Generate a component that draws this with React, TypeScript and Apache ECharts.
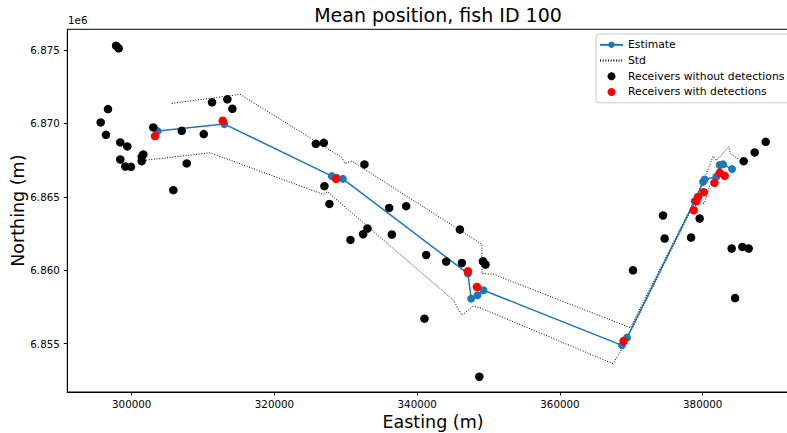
import React, { useEffect, useRef } from "react";
import * as echarts from "echarts";

const FONT = "DejaVu Sans";

// Axis ranges and ticks
const xRange = [290977, 393450];
const yRange = [6851710, 6876410];
const xTicks = [300000, 320000, 340000, 360000, 380000];
const yTicks = [6855000, 6860000, 6865000, 6870000, 6875000];

// Estimated track
const estimateX = [303645, 312982, 328040, 328700, 329580, 347105, 347568, 348450, 349290, 368695, 369400, 378873, 380050, 380275, 381915, 382378, 382855, 384117];
const estimateY = [6869477, 6869955, 6866409, 6866300, 6866225, 6859775, 6858070, 6858295, 6858636, 6854887, 6855412, 6864705, 6866021, 6866185, 6866366, 6867164, 6867211, 6866889];

// Std envelope
const stdUpX = [305608, 315183, 329441, 329903, 330843, 349067, 349067, 350694, 369858, 379114, 381078, 381456, 381920, 382384, 383645, 383882, 385045];
const stdUpY = [6871366, 6871980, 6867684, 6867275, 6867432, 6861772, 6859775, 6859727, 6856091, 6865000, 6867275, 6867773, 6867500, 6867725, 6868407, 6867957, 6867548];
const stdLoX = [302005, 310977, 326777, 327422, 345086, 346264, 347806, 348800, 367433, 368700, 378652, 380278, 380980, 381456, 381778, 382479, 383180];
const stdLoY = [6867500, 6867998, 6865182, 6865343, 6857955, 6856932, 6857545, 6857450, 6853640, 6854660, 6864364, 6864589, 6865796, 6865912, 6866362, 6866593, 6866225];

// Receivers with detections
const redX = [303266, 312757, 328628, 347105, 348367, 368920, 378735, 379110, 379350, 380137, 381637, 382380, 383080];
const redY = [6869137, 6870180, 6866225, 6859932, 6858862, 6855180, 6864091, 6864725, 6864998, 6865318, 6865953, 6866634, 6866430];

// Receivers without detections
const blackX = [297813, 298177, 296677, 295654, 296397, 298402, 299383, 298402, 299103, 299902, 301626, 301402, 301402, 303028, 307010, 310094, 307711, 305833, 311258, 313403, 314103,
  325795, 326917, 332609, 327001, 327702, 336072, 338455, 333030, 332427, 330647, 336450, 345983, 341259, 344063, 346264, 349208, 349573, 341020, 348704,
  370237, 374667, 378369, 374443, 379574, 384060, 385560, 386443, 384537, 385742, 387284, 388826];
const blackY = [6875293, 6875116, 6870977, 6870070, 6869225, 6868707, 6868434, 6867547, 6867070, 6867043, 6867889, 6867725, 6867432, 6869730, 6869498, 6869273, 6867275, 6865455, 6871434, 6871639, 6870998,
  6868611, 6868679, 6867207, 6865727, 6864520, 6864247, 6864364, 6862843, 6862455, 6862066, 6862434, 6862775, 6861043, 6860593, 6860498, 6860614, 6860389, 6856706, 6852750,
  6860000, 6862162, 6862230, 6863730, 6863525, 6861480, 6861589, 6861480, 6858111, 6867432, 6868025, 6868748];

const zip = (a: number[], b: number[]) => a.map((v, i) => [v, b[i]]);

export default function App() {
  const ref = useRef<HTMLDivElement>(null);
  useEffect(() => {
    if (!ref.current) return;
    const chart = echarts.init(ref.current, null, { renderer: "svg" });
    const dotted = [1, 1.65];
    chart.setOption({
      animation: false,
      backgroundColor: "#fff",
      textStyle: { fontFamily: FONT },
      title: {
        text: "Mean position, fish ID 100",
        left: 433,
        textAlign: "center",
        top: 0,
        textStyle: { fontFamily: FONT, fontSize: 19, fontWeight: "normal", color: "#000", lineHeight: 20 },
      },
      grid: {
        left: 67.3,
        top: 29.3,
        width: 731.4,
        height: 362.7,
        containLabel: false,
        outerBoundsMode: "none",
        show: true,
        borderColor: "#000",
        borderWidth: 1,
        backgroundColor: "transparent",
      },
      graphic: [
        {
          type: "text",
          left: 68,
          top: 15,
          style: { text: "1e6", fontSize: 10.3, fill: "#000", fontFamily: FONT },
        },
      ],
      legend: {
        orient: "vertical",
        left: 596,
        top: 34,
        padding: [3, 12, 3, 3],
        itemWidth: 23,
        itemHeight: 8,
        itemGap: 0,
        itemTextGap: 9.5,
        borderColor: "#cccccc",
        borderWidth: 1,
        borderRadius: 3,
        backgroundColor: "rgba(255,255,255,0.8)",
        textStyle: { fontFamily: FONT, fontSize: 10.8, color: "#000", lineHeight: 15.7 },
        data: [
          { name: "Estimate" },
          { name: "Std", itemStyle: { opacity: 0 } },
          { name: "Receivers without detections", icon: "circle" },
          { name: "Receivers with detections", icon: "circle" },
        ],
      },
      xAxis: {
        type: "value",
        min: xRange[0],
        max: xRange[1],
        name: "Easting (m)",
        nameLocation: "middle",
        nameGap: 20,
        nameTextStyle: { fontFamily: FONT, fontSize: 17.5, color: "#000" },
        axisLine: { show: true, onZero: false, lineStyle: { color: "#000", width: 1 } },
        axisTick: { show: true, length: 3.5, customValues: xTicks, lineStyle: { color: "#000", width: 1 } },
        axisLabel: {
          customValues: xTicks,
          fontFamily: FONT,
          fontSize: 10.3,
          color: "#000",
          margin: 6.5,
          formatter: (v: number) => String(Math.round(v)),
        },
        splitLine: { show: false },
      },
      yAxis: {
        type: "value",
        min: yRange[0],
        max: yRange[1],
        name: "Northing (m)",
        nameLocation: "middle",
        nameGap: 40,
        nameMoveOverlap: false,
        nameRotate: 90,
        nameTextStyle: { fontFamily: FONT, fontSize: 17.5, color: "#000" },
        axisLine: { show: true, onZero: false, lineStyle: { color: "#000", width: 1 } },
        axisTick: { show: true, length: 3.5, customValues: yTicks, lineStyle: { color: "#000", width: 1 } },
        axisLabel: {
          customValues: yTicks,
          fontFamily: FONT,
          fontSize: 10.3,
          color: "#000",
          margin: 7.5,
          formatter: (v: number) => (v / 1e6).toFixed(3),
        },
        splitLine: { show: false },
      },
      series: [
        {
          name: "Std",
          type: "line",
          data: zip(stdUpX, stdUpY),
          symbol: "none",
          lineStyle: { color: "#000", width: 1, type: dotted },
          itemStyle: { color: "#000" },
          z: 1,
        },
        {
          name: "Std",
          type: "line",
          data: zip(stdLoX, stdLoY),
          symbol: "none",
          lineStyle: { color: "#000", width: 1, type: dotted },
          itemStyle: { color: "#000" },
          z: 1,
        },
        {
          name: "Estimate",
          type: "line",
          data: zip(estimateX, estimateY),
          symbol: "circle",
          symbolSize: 8,
          lineStyle: { color: "#1f77b4", width: 1.5 },
          itemStyle: { color: "#1f77b4", borderWidth: 0 },
          z: 2,
        },
        {
          name: "Receivers without detections",
          type: "scatter",
          data: zip(blackX, blackY),
          symbol: "circle",
          symbolSize: 8.5,
          itemStyle: { color: "#000", opacity: 1 },
          z: 3,
        },
        {
          name: "Receivers with detections",
          type: "scatter",
          data: zip(redX, redY),
          symbol: "circle",
          symbolSize: 8.5,
          itemStyle: { color: "#ff0000", opacity: 1 },
          z: 4,
        },
      ],
    });
    return () => chart.dispose();
  }, []);
  return (
    <div
      ref={ref}
      style={{ position: "fixed", left: 0, top: 0, width: 787, height: 433, background: "#fff" }}
    />
  );
}
